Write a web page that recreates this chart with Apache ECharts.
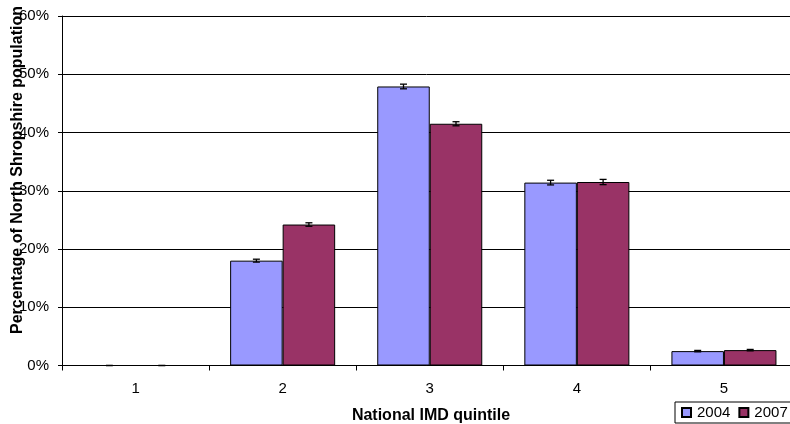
<!DOCTYPE html>
<html>
<head>
<meta charset="utf-8">
<script src="https://cdn.jsdelivr.net/npm/echarts@6/dist/echarts.min.js"></script>
<style>html,body{margin:0;padding:0;background:#fff;}#c{width:790px;height:424px;}</style>
</head>
<body>
<div id="c"></div>
<script>
var categories = ['1', '2', '3', '4', '5'];
var values2004 = [0, 18.0, 47.9, 31.4, 2.47];
var values2007 = [0, 24.2, 41.5, 31.5, 2.64];
var err2004 = [0, 0.25, 0.4, 0.4, 0.12];
var err2007 = [0, 0.3, 0.35, 0.45, 0.12];
var yTicks = [0, 10, 20, 30, 40, 50, 60];

var chart = echarts.init(document.getElementById('c'));
var GAP = 0.286;
var barFrac = (1 - GAP) / 2;
var FONT = 'Liberation Sans, Arial, sans-serif';

function errSeries(name, vals, errs, side) {
  return {
    type: 'custom',
    name: name + ' err',
    z: 10,
    silent: true,
    clip: false,
    data: vals.map(function (v, i) { return [i, v, errs[i]]; }),
    renderItem: function (params, api) {
      var band = api.size([1, 0])[0];
      var c = api.coord([api.value(0), api.value(1)]);
      var x = c[0] + side * band * barFrac / 2;
      var hi = api.coord([api.value(0), api.value(1) + api.value(2)])[1];
      var lo = api.coord([api.value(0), api.value(1) - api.value(2)])[1];
      var cap = 3.5;
      var st = { stroke: '#000', lineWidth: 1.3 };
      return {
        type: 'group',
        children: [
          { type: 'line', shape: { x1: x, y1: hi, x2: x, y2: lo }, style: st },
          { type: 'line', shape: { x1: x - cap, y1: hi, x2: x + cap, y2: hi }, style: st },
          { type: 'line', shape: { x1: x - cap, y1: lo, x2: x + cap, y2: lo }, style: st }
        ]
      };
    }
  };
}

chart.setOption({
  animation: false,
  backgroundColor: '#fff',
  grid: { left: 62, top: 16, width: 735.5, height: 349.5, containLabel: false, outerBoundsMode: 'none' },
  legend: {
    data: ['2004', '2007'],
    left: 675,
    top: 402,
    width: 140,
    orient: 'horizontal',
    icon: 'rect',
    itemWidth: 9,
    itemHeight: 9,
    itemGap: 8,
    borderColor: '#000',
    borderWidth: 1,
    padding: [3, 10, 3, 6],
    textStyle: { fontFamily: FONT, fontSize: 15, color: '#000', padding: [0, 0, 0, 1] }
  },
  xAxis: {
    type: 'category',
    data: categories,
    boundaryGap: true,
    axisLine: { lineStyle: { color: '#000', width: 1 } },
    axisTick: { show: true, length: 5, lineStyle: { color: '#000' } },
    axisLabel: { fontFamily: FONT, fontSize: 15, color: '#000', margin: 16 }
  },
  yAxis: {
    type: 'value',
    min: yTicks[0],
    max: yTicks[yTicks.length - 1],
    interval: 10,
    axisLine: { show: true, lineStyle: { color: '#000', width: 1 } },
    axisTick: { show: true, length: 4, lineStyle: { color: '#000' } },
    splitLine: { show: true, lineStyle: { color: '#000', width: 1 } },
    axisLabel: { formatter: '{value}%', fontFamily: FONT, fontSize: 15, color: '#000', margin: 13 }
  },
  graphic: [
    {
      type: 'text', x: 18, y: 170, rotation: Math.PI / 2,
      style: { text: 'Percentage of North Shropshire population', fontFamily: FONT, fontWeight: 'bold', fontSize: 16, fill: '#000', align: 'center', verticalAlign: 'middle' }
    },
    {
      type: 'text', x: 431, y: 416,
      style: { text: 'National IMD quintile', fontFamily: FONT, fontWeight: 'bold', fontSize: 16, fill: '#000', align: 'center', verticalAlign: 'middle' }
    }
  ],
  series: [
    {
      name: '2004', type: 'bar', data: values2004, barGap: '0%', barCategoryGap: (GAP * 100) + '%',
      itemStyle: { color: '#9999FF', borderColor: '#000', borderWidth: 1 }
    },
    {
      name: '2007', type: 'bar', data: values2007, barGap: '0%', barCategoryGap: (GAP * 100) + '%',
      itemStyle: { color: '#993366', borderColor: '#000', borderWidth: 1 }
    },
    errSeries('2004', values2004, err2004, -1),
    errSeries('2007', values2007, err2007, 1)
  ]
});
</script>
</body>
</html>
